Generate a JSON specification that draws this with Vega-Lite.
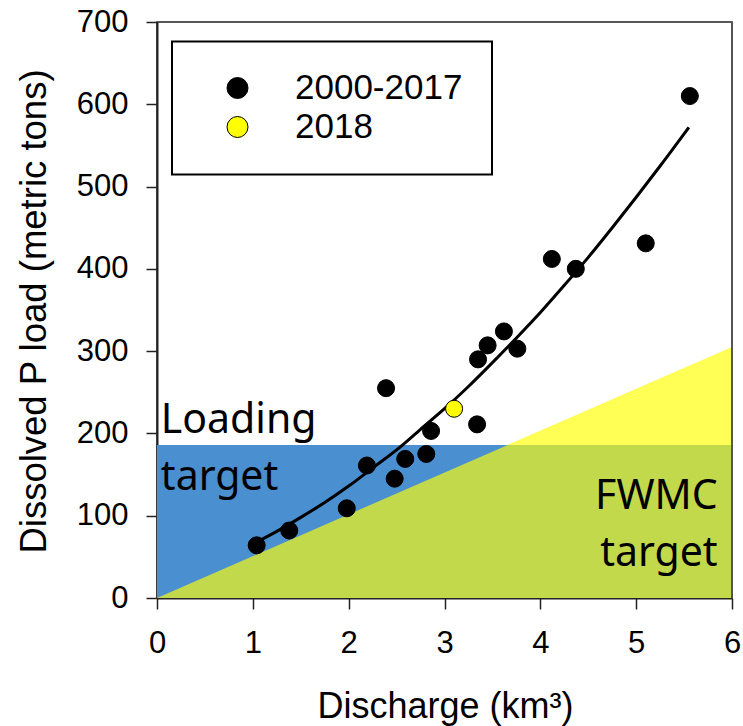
{
  "$schema": "https://vega.github.io/schema/vega-lite/v6.json",
  "width": 575,
  "height": 576,
  "autosize": "none",
  "padding": {"left": 157, "top": 22, "right": 11, "bottom": 128},
  "background": "white",
  "config": {
    "view": {"stroke": "#222222", "strokeWidth": 1.5},
    "legend": {"strokeColor": "black", "strokeWidth": 2},
    "axis": {
      "grid": false,
      "domainColor": "#222222",
      "domainWidth": 2,
      "tickColor": "#222222",
      "tickWidth": 1.5,
      "tickSize": 11,
      "labelFont": "Liberation Sans",
      "labelFontSize": 31,
      "labelColor": "black",
      "titleFont": "Liberation Sans",
      "titleFontWeight": "normal",
      "titleColor": "black"
    }
  },
  "datasets": {
    "loads": [
      {"q": 1.04, "load": 64, "period": "2000-2017"},
      {"q": 1.38, "load": 82, "period": "2000-2017"},
      {"q": 1.98, "load": 109, "period": "2000-2017"},
      {"q": 2.19, "load": 161, "period": "2000-2017"},
      {"q": 2.39, "load": 255, "period": "2000-2017"},
      {"q": 2.48, "load": 145, "period": "2000-2017"},
      {"q": 2.59, "load": 169, "period": "2000-2017"},
      {"q": 2.81, "load": 175, "period": "2000-2017"},
      {"q": 2.86, "load": 203, "period": "2000-2017"},
      {"q": 3.34, "load": 211, "period": "2000-2017"},
      {"q": 3.35, "load": 290, "period": "2000-2017"},
      {"q": 3.45, "load": 307, "period": "2000-2017"},
      {"q": 3.62, "load": 324, "period": "2000-2017"},
      {"q": 3.76, "load": 303, "period": "2000-2017"},
      {"q": 4.12, "load": 412, "period": "2000-2017"},
      {"q": 4.37, "load": 400, "period": "2000-2017"},
      {"q": 5.10, "load": 431, "period": "2000-2017"},
      {"q": 5.56, "load": 610, "period": "2000-2017"},
      {"q": 3.10, "load": 230, "period": "2018"}
    ],
    "fit": [
      {"q": 1.04, "load": 68},
      {"q": 1.25, "load": 81},
      {"q": 1.5, "load": 98},
      {"q": 1.75, "load": 116},
      {"q": 2.0, "load": 136},
      {"q": 2.25, "load": 158},
      {"q": 2.5, "load": 180},
      {"q": 2.75, "load": 205},
      {"q": 3.0, "load": 230},
      {"q": 3.25, "load": 257},
      {"q": 3.5, "load": 286},
      {"q": 3.75, "load": 316},
      {"q": 4.0, "load": 347},
      {"q": 4.25, "load": 380},
      {"q": 4.5, "load": 414},
      {"q": 4.75, "load": 450},
      {"q": 5.0, "load": 487},
      {"q": 5.25, "load": 525},
      {"q": 5.55, "load": 572}
    ],
    "loadingTarget": [{"q0": 0, "q1": 6, "lo": 0, "hi": 186}],
    "bothTargets": [
      {"q": 0, "top": 0, "base": 0},
      {"q": 3.66, "top": 186, "base": 0},
      {"q": 6, "top": 186, "base": 0}
    ],
    "fwmcOnly": [
      {"q": 3.66, "top": 186, "base": 186},
      {"q": 6, "top": 305, "base": 186}
    ],
    "frameEdge": [{"q": 6, "lo": 0, "hi": 700}],
    "notesLeft": [{"q": 0.04, "load": 200, "label": "Loading\ntarget"}],
    "notesRight": [{"q": 5.85, "load": 108, "label": "FWMC\ntarget"}]
  },
  "layer": [
    {
      "data": {"name": "loadingTarget"},
      "mark": {"type": "rect", "color": "#4a8fcf"},
      "encoding": {
        "x": {"field": "q0", "type": "quantitative", "scale": {"domain": [0, 6], "nice": false, "zero": false},
          "axis": {
            "title": "Discharge (km³)",
            "titleFontSize": 36,
            "titleX": 288,
            "titleY": 119,
            "titleAlign": "center",
            "titleBaseline": "alphabetic",
            "values": [0, 1, 2, 3, 4, 5, 6],
            "format": "d",
            "labelPadding": 19,
            "labelFlush": false
          }},
        "x2": {"field": "q1"},
        "y": {"field": "lo", "type": "quantitative", "scale": {"domain": [0, 700], "nice": false},
          "axis": {
            "title": "Dissolved P load (metric tons)",
            "titleFontSize": 36.5,
            "titleAngle": -90,
            "titleX": -112,
            "titleY": 289,
            "titleAlign": "center",
            "titleBaseline": "alphabetic",
            "values": [0, 100, 200, 300, 400, 500, 600, 700],
            "format": "d",
            "labelPadding": 18,
            "labelFlush": false
          }},
        "y2": {"field": "hi"}
      }
    },
    {
      "data": {"name": "bothTargets"},
      "mark": {"type": "area", "color": "#c1d94a"},
      "encoding": {
        "x": {"field": "q", "type": "quantitative"},
        "y": {"field": "top", "type": "quantitative"},
        "y2": {"field": "base"}
      }
    },
    {
      "data": {"name": "fwmcOnly"},
      "mark": {"type": "area", "color": "#ffff55"},
      "encoding": {
        "x": {"field": "q", "type": "quantitative"},
        "y": {"field": "top", "type": "quantitative"},
        "y2": {"field": "base"}
      }
    },
    {
      "data": {"name": "notesLeft"},
      "mark": {"type": "text", "font": "Noto Sans", "fontSize": 41, "align": "left", "baseline": "alphabetic", "lineHeight": 57, "lineBreak": "\n", "color": "black"},
      "encoding": {
        "x": {"field": "q", "type": "quantitative"},
        "y": {"field": "load", "type": "quantitative"},
        "text": {"field": "label", "type": "nominal"}
      }
    },
    {
      "data": {"name": "notesRight"},
      "mark": {"type": "text", "font": "Noto Sans", "fontSize": 41, "align": "right", "baseline": "alphabetic", "lineHeight": 57, "lineBreak": "\n", "color": "black"},
      "encoding": {
        "x": {"field": "q", "type": "quantitative"},
        "y": {"field": "load", "type": "quantitative"},
        "text": {"field": "label", "type": "nominal"}
      }
    },
    {
      "data": {"name": "fit"},
      "mark": {"type": "line", "color": "black", "strokeWidth": 3, "interpolate": "monotone"},
      "encoding": {
        "x": {"field": "q", "type": "quantitative"},
        "y": {"field": "load", "type": "quantitative"}
      }
    },
    {
      "data": {"name": "loads"},
      "mark": {"type": "point", "shape": "circle", "filled": true, "size": 290, "stroke": "black", "strokeWidth": 1, "opacity": 1},
      "encoding": {
        "x": {"field": "q", "type": "quantitative"},
        "y": {"field": "load", "type": "quantitative"},
        "fill": {
          "field": "period",
          "type": "nominal",
          "scale": {"domain": ["2000-2017", "2018"], "range": ["#000000", "#ffff00"]},
          "legend": {
            "title": null,
            "orient": "none",
            "legendX": 15,
            "legendY": 19.5,
            "strokeColor": "black",
            "padding": 29,
            "symbolType": "circle",
            "symbolSize": 441,
            "symbolStrokeColor": "black",
            "symbolStrokeWidth": 1,
            "symbolOffset": 19,
            "labelOffset": 40,
            "labelLimit": 400,
            "labelFont": "Liberation Sans",
            "labelFontSize": 35,
            "labelColor": "black",
            "rowPadding": 3
          }
        }
      }
    },
    {
      "data": {"name": "frameEdge"},
      "mark": {"type": "rule", "color": "#555555", "strokeWidth": 2},
      "encoding": {
        "x": {"field": "q", "type": "quantitative"},
        "y": {"field": "lo", "type": "quantitative"},
        "y2": {"field": "hi"}
      }
    }
  ]
}
